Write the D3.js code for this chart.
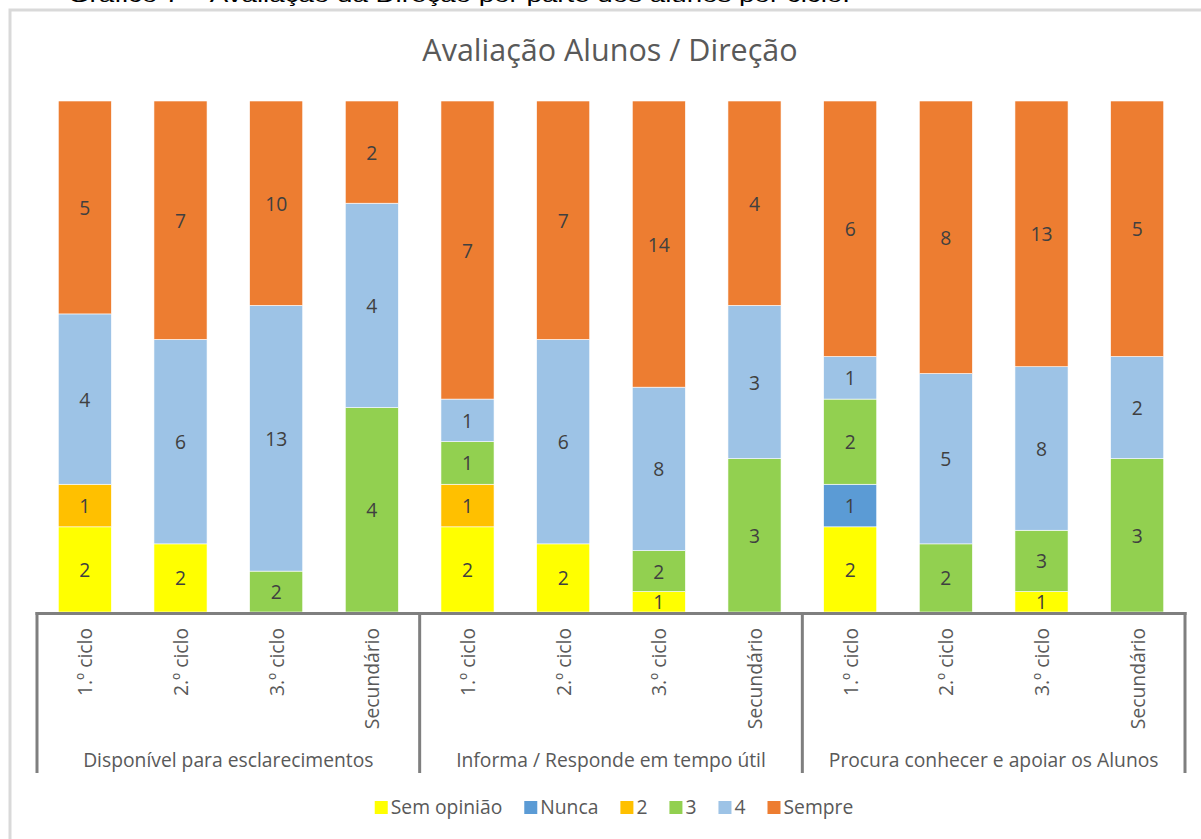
<!DOCTYPE html>
<html><head><meta charset="utf-8">
<script src="https://cdn.jsdelivr.net/npm/d3@7"></script>
<style>html,body{margin:0;padding:0;background:#fff;overflow:hidden}svg{display:block}</style>
</head><body>
<svg id="c" width="1201" height="839"></svg>
<script>
const groups = ["Disponível para esclarecimentos","Informa / Responde em tempo útil","Procura conhecer e apoiar os Alunos"];
const levels = ["1.º ciclo","2.º ciclo","3.º ciclo","Secundário"];
const seriesNames = ["Sem opinião","Nunca","2","3","4","Sempre"];
const colors = ["#FFFF00","#5B9BD5","#FFC000","#92D050","#9DC3E6","#ED7D31"];
// values per bar (group-major order), for each series
const semOpiniao = [2,2,0,0, 2,2,1,0, 2,0,1,0];
const nunca      = [0,0,0,0, 0,0,0,0, 1,0,0,0];
const dois       = [1,0,0,0, 1,0,0,0, 0,0,0,0];
const tres       = [0,0,2,4, 1,0,2,3, 2,2,3,3];
const quatro     = [4,6,13,4,1,6,8,3, 1,5,8,2];
const sempre     = [5,7,10,2,7,7,14,4, 6,8,13,5];
const seriesValues = [semOpiniao,nunca,dois,tres,quatro,sempre];

(function(){
const rows = [];
groups.forEach((g,gi)=>levels.forEach((l,li)=>{
  const i = gi*levels.length+li;
  const r = {key:i, group:g, level:l};
  seriesNames.forEach((s,si)=>r[s]=seriesValues[si][i]);
  rows.push(r);
}));

const svg = d3.select("#c");
const font = "'Open Sans', Lato, sans-serif";
const fs = 19.3;

// caption (clipped at top, as in the reference)
svg.append("text").attr("x",68).attr("y",2).attr("font-family","Arial, 'Liberation Sans', sans-serif")
  .attr("font-size",21).attr("fill","#000").attr("textLength",782).attr("lengthAdjust","spacingAndGlyphs")
  .text("Gráfico 7 – Avaliação da Direção por parte dos alunos por ciclo.");

// chart border
svg.append("rect").attr("x",10).attr("y",10).attr("width",1200).attr("height",840)
  .attr("fill","#fff").attr("stroke","#d9d9d9").attr("stroke-width",3);

svg.append("text").attr("x",610).attr("y",61).attr("text-anchor","middle")
  .attr("font-family",font).attr("font-size",30.5).attr("fill","#595959")
  .text("Avaliação Alunos / Direção");

const pLeft=37, pRight=1185, pTop=101, pBottom=612;
const x = d3.scaleBand().domain(rows.map(d=>d.key)).range([pLeft,pRight]).paddingInner(0.445).paddingOuter(0.2225);
const y = d3.scaleLinear().domain([0,1]).range([pBottom,pTop]);

const stack = d3.stack().keys(seriesNames).offset(d3.stackOffsetExpand);
const stacked = stack(rows);

const layer = svg.append("g").selectAll("g").data(stacked).join("g")
  .attr("fill",(d,i)=>colors[i]);
layer.selectAll("rect").data(d=>d.filter(p=>p.data[d.key]>0)).join("rect")
  .attr("x",d=>x(d.data.key)).attr("width",x.bandwidth())
  .attr("y",d=>y(d[1])).attr("height",d=>y(d[0])-y(d[1]))
  .attr("stroke","#fff").attr("stroke-width",0.6);

// data labels
stacked.forEach(s=>{
  svg.append("g").selectAll("text").data(s.filter(p=>p.data[s.key]>0)).join("text")
    .attr("x",d=>x(d.data.key)+x.bandwidth()/2)
    .attr("y",d=>(y(d[0])+y(d[1]))/2)
    .attr("text-anchor","middle").attr("dominant-baseline","central")
    .attr("font-family",font).attr("font-size",fs).attr("fill","#404040")
    .text(d=>d.data[s.key]);
});

// axis line
const axisColor="#7f7f7f";
svg.append("line").attr("x1",pLeft-1.5).attr("x2",pRight+1.5).attr("y1",pBottom+1.5).attr("y2",pBottom+1.5)
  .attr("stroke",axisColor).attr("stroke-width",3);
// group separators
const step = x.step();
const sepXs = [pLeft];
groups.forEach((g,gi)=>sepXs.push(x(gi*4+3)+x.bandwidth()+(step-x.bandwidth())/2));
sepXs[sepXs.length-1]=pRight;
svg.append("g").selectAll("line").data(sepXs).join("line")
  .attr("x1",d=>d).attr("x2",d=>d).attr("y1",pBottom).attr("y2",773)
  .attr("stroke",axisColor).attr("stroke-width",3);

// category labels
svg.append("g").selectAll("text").data(rows).join("text")
  .attr("transform",d=>`translate(${x(d.key)+x.bandwidth()/2},628) rotate(-90)`)
  .attr("text-anchor","end").attr("dominant-baseline","central")
  .attr("font-family",font).attr("font-size",fs).attr("fill","#595959")
  .text(d=>d.level);

// group labels
svg.append("g").selectAll("text").data(groups).join("text")
  .attr("x",(d,i)=>(sepXs[i]+sepXs[i+1])/2).attr("y",767)
  .attr("text-anchor","middle").attr("font-family",font).attr("font-size",fs).attr("fill","#595959")
  .text(d=>d);

// legend
const leg = svg.append("g");
let lx = 0;
seriesNames.forEach((s,i)=>{
  const g = leg.append("g");
  g.append("rect").attr("x",0).attr("y",-13).attr("width",13).attr("height",13).attr("fill",colors[i]);
  const t = g.append("text").attr("x",16).attr("y",0).attr("font-family",font).attr("font-size",fs).attr("fill","#595959").text(s);
  const w = 16 + t.node().getComputedTextLength();
  g.attr("transform",`translate(${lx},0)`);
  lx += w + 22;
});
const total = lx-22;
leg.attr("transform",`translate(${614-total/2},814)`);
})();
</script>
</body></html>
